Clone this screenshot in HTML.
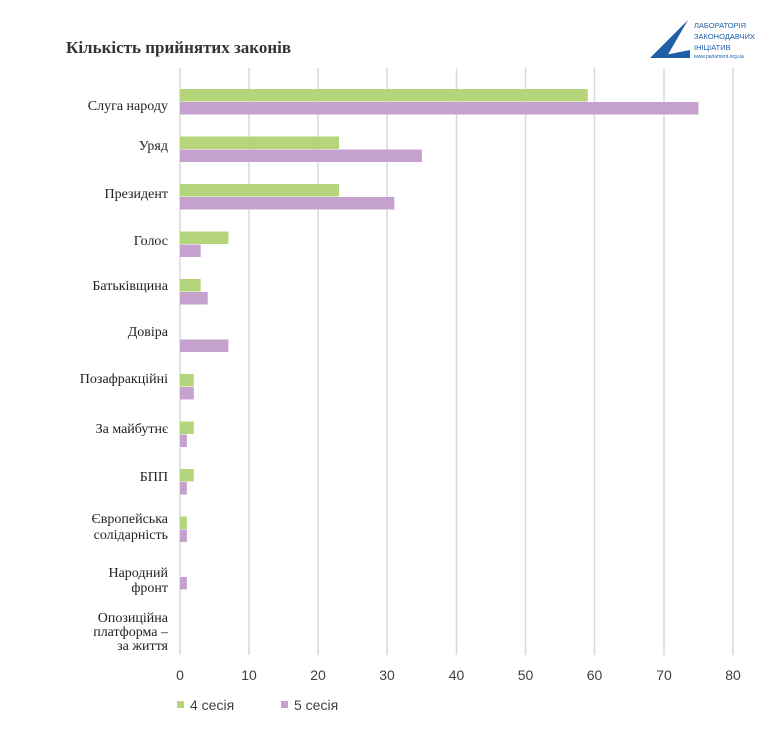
<!DOCTYPE html><html><head><style>body{margin:0;background:#fff}svg{display:block}</style></head><body>
<svg width="768" height="755" xmlns="http://www.w3.org/2000/svg" font-family="Liberation Serif, serif">
<text x="66" y="53" font-size="17" font-weight="bold" fill="#333">Кількість прийнятих законів</text>
<polygon points="688,20 668,58 650,58" fill="#1f5fa8"/>
<polygon points="688,20 672,58 666,58" fill="#fff"/>
<polygon points="650,58 690,50 690,58" fill="#1f5fa8"/>
<g font-family="Liberation Sans, sans-serif" fill="#1f5fa8" font-size="7.5"><text x="694" y="28">ЛАБОРАТОРІЯ</text><text x="694" y="39">ЗАКОНОДАВЧИХ</text><text x="694" y="50">ІНІЦІАТИВ</text><text x="694" y="58" font-size="5">www.parlament.org.ua</text></g>
<g stroke="#d9d9d9" stroke-width="1.5">
<line x1="180" y1="68" x2="180" y2="655"/><line x1="249" y1="68" x2="249" y2="655"/><line x1="318" y1="68" x2="318" y2="655"/><line x1="387" y1="68" x2="387" y2="655"/><line x1="456.5" y1="68" x2="456.5" y2="655"/><line x1="525.5" y1="68" x2="525.5" y2="655"/><line x1="594.5" y1="68" x2="594.5" y2="655"/><line x1="664" y1="68" x2="664" y2="655"/><line x1="733" y1="68" x2="733" y2="655"/>
</g>
<g fill="#b5d57b">
<rect x="180" y="89" width="407.8" height="12.5"/>
<rect x="180" y="136.5" width="159" height="12.5"/>
<rect x="180" y="184" width="159" height="12.5"/>
<rect x="180" y="231.5" width="48.4" height="12.5"/>
<rect x="180" y="279" width="20.7" height="12.5"/>
<rect x="180" y="374" width="13.8" height="12.5"/>
<rect x="180" y="421.5" width="13.8" height="12.5"/>
<rect x="180" y="469" width="13.8" height="12.5"/>
<rect x="180" y="516.5" width="6.9" height="12.5"/>
</g>
<g fill="#c5a1cd">
<rect x="180" y="102" width="518.4" height="12.5"/>
<rect x="180" y="149.5" width="241.9" height="12.5"/>
<rect x="180" y="197" width="214.3" height="12.5"/>
<rect x="180" y="244.5" width="20.7" height="12.5"/>
<rect x="180" y="292" width="27.7" height="12.5"/>
<rect x="180" y="339.5" width="48.4" height="12.5"/>
<rect x="180" y="387" width="13.8" height="12.5"/>
<rect x="180" y="434.5" width="6.9" height="12.5"/>
<rect x="180" y="482" width="6.9" height="12.5"/>
<rect x="180" y="529.5" width="6.9" height="12.5"/>
<rect x="180" y="577" width="6.9" height="12.5"/>
</g>
<g font-size="14" fill="#404040" text-anchor="middle" font-family="Liberation Sans, sans-serif">
<text x="180" y="680">0</text><text x="249" y="680">10</text><text x="318" y="680">20</text><text x="387" y="680">30</text><text x="456.5" y="680">40</text><text x="525.5" y="680">50</text><text x="594.5" y="680">60</text><text x="664" y="680">70</text><text x="733" y="680">80</text>
</g>
<g font-size="14" fill="#222" text-anchor="end">
<text x="168" y="110">Слуга народу</text>
<text x="168" y="150">Уряд</text>
<text x="168" y="198">Президент</text>
<text x="168" y="245">Голос</text>
<text x="168" y="290">Батьківщина</text>
<text x="168" y="336">Довіра</text>
<text x="168" y="383">Позафракційні</text>
<text x="168" y="433">За майбутнє</text>
<text x="168" y="481">БПП</text>
<text x="168" y="523">Європейська</text><text x="168" y="539">солідарність</text>
<text x="168" y="577">Народний</text><text x="168" y="592">фронт</text>
<text x="168" y="622">Опозиційна</text><text x="168" y="636">платформа –</text><text x="168" y="650">за життя</text>
</g>
<rect x="177" y="701" width="7" height="7" fill="#b5d57b"/><text x="190" y="710" font-size="14" fill="#404040" font-family="Liberation Sans, sans-serif">4 сесія</text>
<rect x="281" y="701" width="7" height="7" fill="#c5a1cd"/><text x="294" y="710" font-size="14" fill="#404040" font-family="Liberation Sans, sans-serif">5 сесія</text>
</svg></body></html>
